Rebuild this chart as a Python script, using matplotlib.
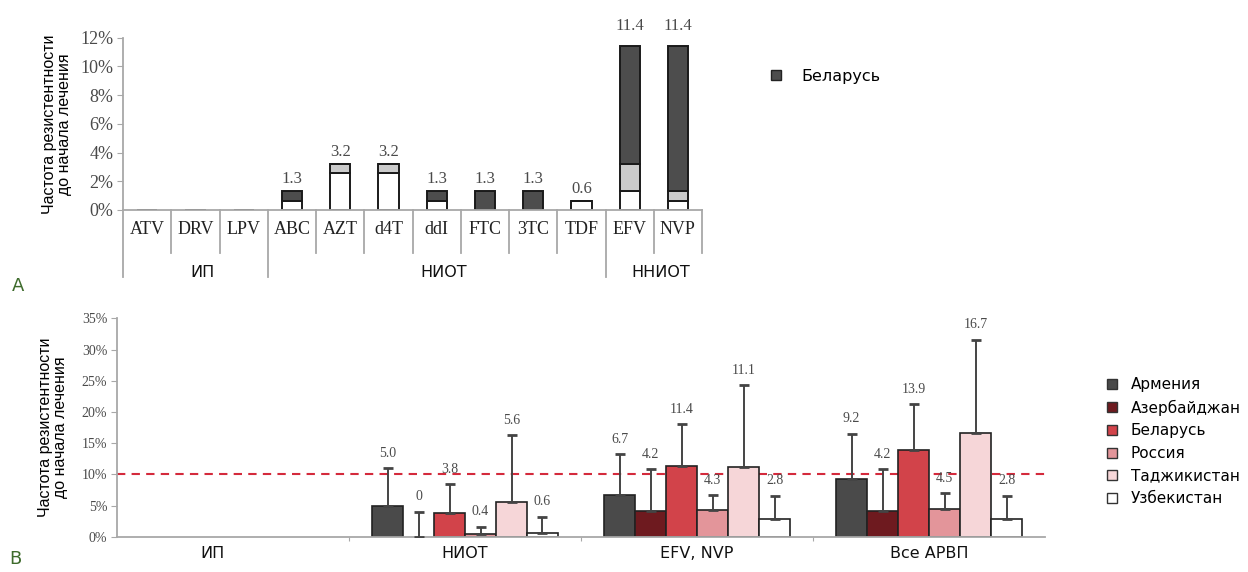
import matplotlib
matplotlib.use("Agg")
import matplotlib.pyplot as plt
from matplotlib.lines import Line2D
import numpy as np

# --- panel A data ---
drugs = ["ATV", "DRV", "LPV", "ABC", "AZT", "d4T", "ddI", "FTC", "3TC", "TDF", "EFV", "NVP"]
layer_white = [0, 0, 0, 0.6, 2.6, 2.6, 0.6, 0, 0, 0.6, 1.3, 0.6]
layer_light = [0, 0, 0, 0, 0.6, 0.6, 0, 0, 0, 0, 1.9, 0.7]
layer_dark = [0, 0, 0, 0.7, 0, 0, 0.7, 1.3, 1.3, 0, 8.2, 10.1]
totals_a = [None, None, None, 1.3, 3.2, 3.2, 1.3, 1.3, 1.3, 0.6, 11.4, 11.4]
drug_groups = ["ИП", "НИОТ", "ННИОТ"]
group_bounds_a = [-0.5, 2.5, 9.5, 11.5]

# --- panel B data ---
classes = ["ИП", "НИОТ", "EFV, NVP", "Все АРВП"]
countries = ["Армения", "Азербайджан", "Беларусь", "Россия", "Таджикистан", "Узбекистан"]
values_b = {
    "Армения": [0, 5.0, 6.7, 9.2],
    "Азербайджан": [0, 0, 4.2, 4.2],
    "Беларусь": [0, 3.8, 11.4, 13.9],
    "Россия": [0, 0.4, 4.3, 4.5],
    "Таджикистан": [0, 5.6, 11.1, 16.7],
    "Узбекистан": [0, 0.6, 2.8, 2.8],
}
upper_b = {
    "Армения": [0, 11.0, 13.2, 16.5],
    "Азербайджан": [0, 4.0, 10.8, 10.8],
    "Беларусь": [0, 8.4, 18.0, 21.2],
    "Россия": [0, 1.6, 6.7, 7.0],
    "Таджикистан": [0, 16.3, 24.3, 31.6],
    "Узбекистан": [0, 3.2, 6.6, 6.6],
}
threshold = 10

colors_b = ["#4a4a4a", "#6e1a1f", "#d2434a", "#e3959a", "#f6d6d8", "#ffffff"]
dark, light, white = "#4d4d4d", "#cbcbcb", "#ffffff"
axis_gray = "#a8a8a8"
num_color = "#4a4a4a"
serif = "Liberation Serif"

fig = plt.figure(figsize=(12.48, 5.72), dpi=100)

# ================= panel A =================
ax = fig.add_axes([0.0986, 0.633, 0.4639, 0.301])
x = np.arange(len(drugs))
w = 0.42
kw = dict(width=w, edgecolor="#1a1a1a", linewidth=1.4)
ax.bar(x, layer_white, color=white, **kw)
ax.bar(x, layer_light, bottom=layer_white, color=light, **kw)
ax.bar(x, layer_dark, bottom=np.add(layer_white, layer_light), color=dark, **kw)
for xi, t in zip(x, totals_a):
    if t is None:
        continue
    pad = 9 if t > 10 else 3
    ax.annotate(f"{t:.1f}", (xi, t), xytext=(0, pad), textcoords="offset points",
                ha="center", va="bottom", fontsize=12, family=serif, color=num_color)

ax.set_xlim(-0.5, 11.5)
ax.set_ylim(0, 12)
ax.set_yticks(range(0, 13, 2))
ax.set_yticklabels([f"{v}%" for v in range(0, 13, 2)], family=serif, fontsize=13, color=num_color)
ax.set_xticks([])
for s in ["top", "right"]:
    ax.spines[s].set_visible(False)
for s in ["left", "bottom"]:
    ax.spines[s].set_color(axis_gray)
    ax.spines[s].set_linewidth(1.3)
ax.tick_params(axis="y", length=4, color=axis_gray, pad=3)
ax.set_ylabel("Частота резистентности\nдо начала лечения", family="Liberation Sans",
              fontsize=11.5, labelpad=6, linespacing=0.95)

trans = ax.get_xaxis_transform()
for i in range(len(drugs) + 1):
    b = i - 0.5
    low = -0.39 if b in group_bounds_a[:-1] else -0.25
    ax.plot([b, b], [0, low], transform=trans, color=axis_gray, lw=1.3, clip_on=False)
for xi, d in zip(x, drugs):
    ax.text(xi, -0.115, d, transform=trans, ha="center", va="center",
            family=serif, fontsize=13, color="#222222")
for g, lo, hi in zip(drug_groups, group_bounds_a[:-1], group_bounds_a[1:]):
    ax.text((lo + hi) / 2 + 0.15, -0.365, g, transform=trans, ha="center", va="center",
            family="DejaVu Sans", fontsize=11.5, color="#111111")

handle_a = [Line2D([], [], ls="none", marker="s", markersize=6.5, markerfacecolor=dark,
                   markeredgecolor="#222222", markeredgewidth=1)]
fig.legend(handle_a, ["Беларусь"], loc="center left", bbox_to_anchor=(0.6154, 0.867),
           frameon=False, prop={"family": "DejaVu Sans", "size": 11.5}, handlelength=1.0,
           handletextpad=1.1, borderpad=0, borderaxespad=0)

# ================= panel B =================
bx = fig.add_axes([0.09375, 0.0617, 0.7437, 0.3818])
gx = np.arange(len(classes))
bw = 0.1335
for k, (c, col) in enumerate(zip(countries, colors_b)):
    pos = gx + (k - 2.5) * bw
    vals = np.array(values_b[c])
    ups = np.array(upper_b[c])
    shown = vals > 0
    bx.bar(pos[shown], vals[shown], width=bw, color=col, edgecolor="#222222", linewidth=1.2, zorder=2)
    has_err = ups > 0
    bx.errorbar(pos[has_err], vals[has_err], yerr=[np.zeros(has_err.sum()), (ups - vals)[has_err]],
                fmt="none", ecolor="#444444", elinewidth=1.4, capsize=3.5, capthick=2, zorder=3)
    for p, v, u in zip(pos[has_err], vals[has_err], ups[has_err]):
        txt = "0" if v == 0 else f"{v:.1f}"
        bx.annotate(txt, (p, u), xytext=(0, 6), textcoords="offset points", ha="center",
                    va="bottom", fontsize=10, family=serif, color=num_color)

bx.axhline(threshold, color="#d42a3c", lw=1.5, ls=(0, (4, 3)), zorder=1)
bx.set_xlim(-0.5, 3.5)
bx.set_ylim(0, 35)
bx.set_yticks(range(0, 36, 5))
bx.set_yticklabels([f"{v}%" for v in range(0, 36, 5)], family=serif, fontsize=10, color=num_color)
bx.set_xticks(gx[:-1] + 0.5)
bx.set_xticklabels([])
bx.tick_params(axis="x", length=3, color=axis_gray, direction="out")
bx.tick_params(axis="y", length=4, color=axis_gray, pad=3)
for s in ["top", "right"]:
    bx.spines[s].set_visible(False)
for s in ["left", "bottom"]:
    bx.spines[s].set_color(axis_gray)
    bx.spines[s].set_linewidth(1.3)
label_shift = [-0.09, 0, 0, 0]
for g, xi, sh in zip(classes, gx, label_shift):
    bx.text(xi + sh, -0.075, g, transform=bx.get_xaxis_transform(), ha="center", va="center",
            family="DejaVu Sans", fontsize=11.5, color="#111111")
bx.set_ylabel("Частота резистентности\nдо начала лечения", family="Liberation Sans",
              fontsize=11.5, labelpad=10, linespacing=0.95)

handles_b = [Line2D([], [], ls="none", marker="s", markersize=6.5, markerfacecolor=col,
                    markeredgecolor="#333333", markeredgewidth=1) for col in colors_b]
fig.legend(handles_b, countries, loc="center left", bbox_to_anchor=(0.8846, 0.228),
           frameon=False, prop={"family": "DejaVu Sans", "size": 11}, handlelength=1.0,
           handletextpad=0.75, borderpad=0, borderaxespad=0, labelspacing=0.5)

fig.text(0.0145, 0.5, "A", color="#3e6b2c", fontsize=13, family="DejaVu Sans", ha="center", va="center")
fig.text(0.0125, 0.022, "B", color="#3e6b2c", fontsize=13, family="DejaVu Sans", ha="center", va="center")

fig.savefig("out.png", dpi=100)
